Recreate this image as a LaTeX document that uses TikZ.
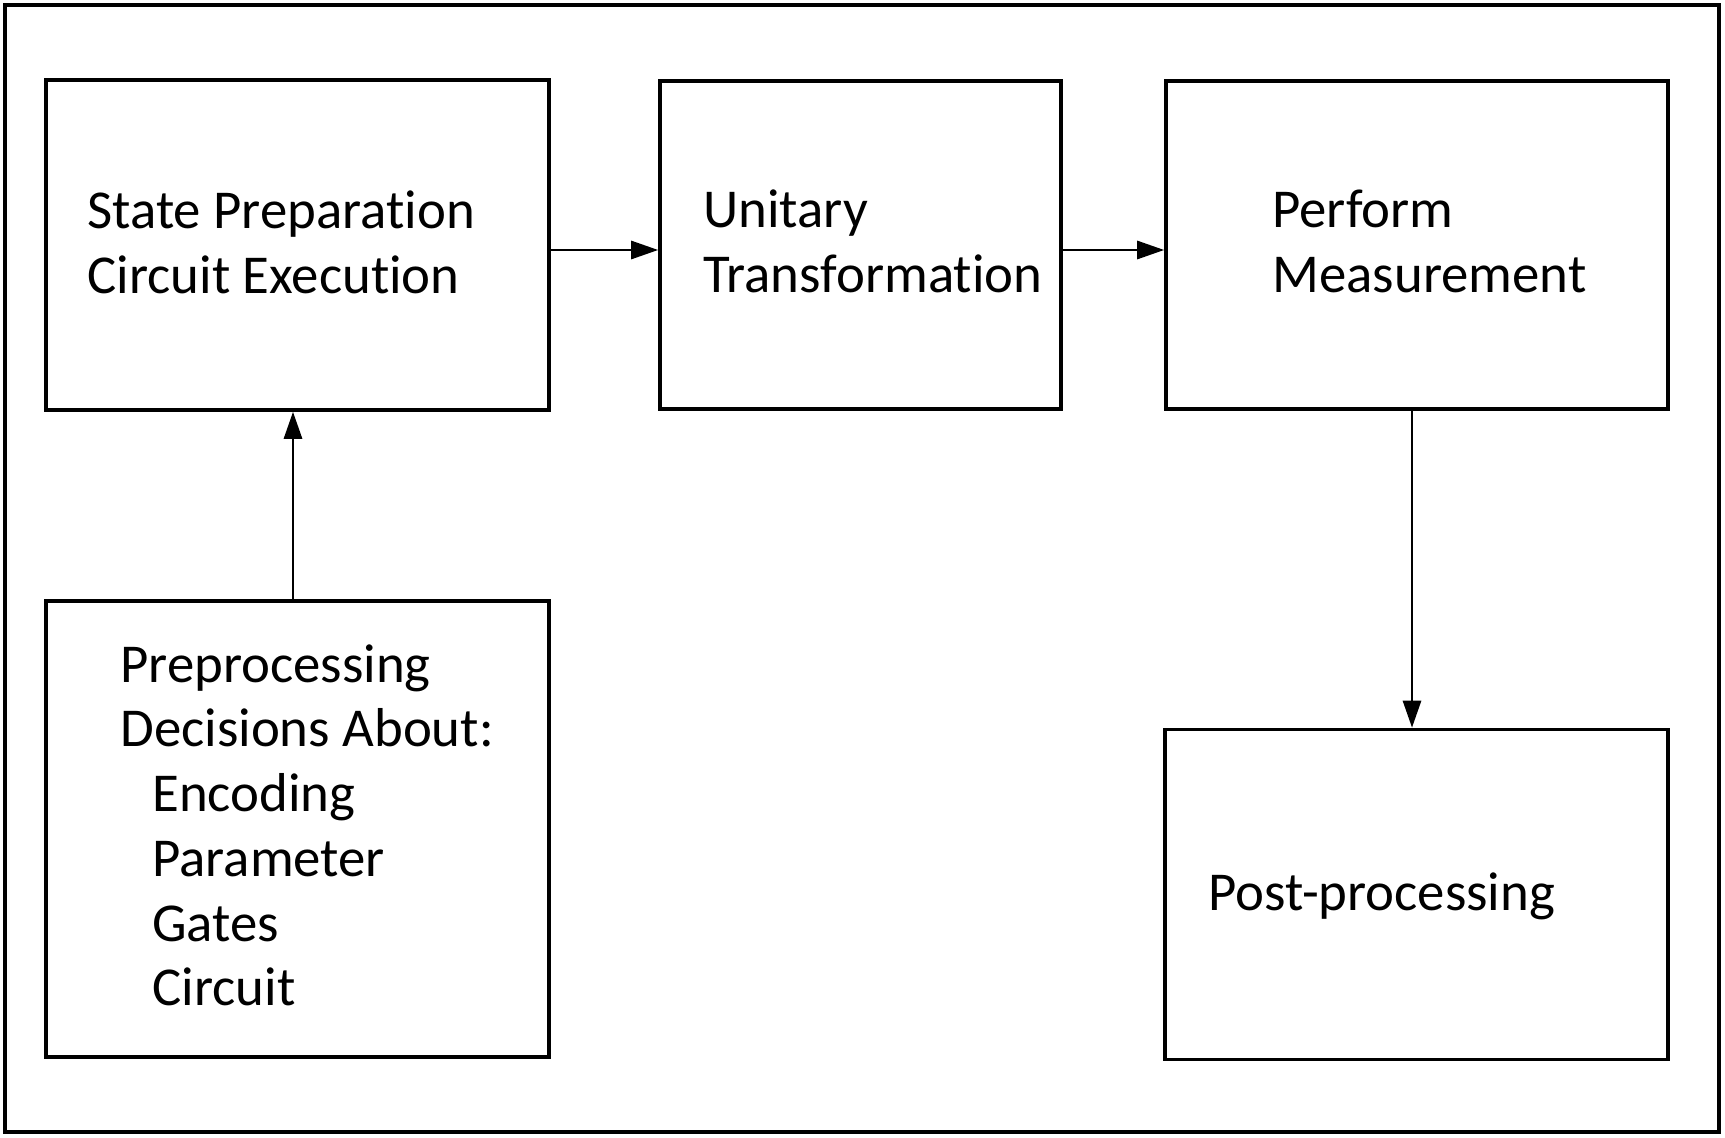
\documentclass[tikz,border=0pt]{standalone}
\usepackage{fontspec}
\setmainfont{Carlito}[Ligatures=NoCommon]
\usetikzlibrary{arrows.meta}
\begin{document}
\begin{tikzpicture}[x=0.5pt,y=-0.5pt,
  frame/.style={draw, line width=1.6pt, inner sep=0pt, minimum width=857pt, minimum height=563.5pt},
  box/.style={draw, line width=1.8pt, inner sep=0pt},
  lbl/.style={anchor=base west, inner sep=0pt, font=\fontsize{27.4pt}{32.5pt}\selectfont},
  conn/.style={line width=1.4pt, -{Triangle[length=13.5pt,width=9pt]}}]
\useasboundingbox (0,0) rectangle (1725,1138);
\node[frame] (fr) at (862,568.5) {};
% boxes
\node[box, minimum width=251.5pt, minimum height=165pt] (b1) at (297.5,245) {};
\node[box, minimum width=200.5pt, minimum height=164pt] (b2) at (860.5,245) {};
\node[box, minimum width=251pt, minimum height=164pt] (b3) at (1417,245) {};
\node[box, minimum width=251.5pt, minimum height=228pt] (b4) at (297.5,829) {};
\node[box, minimum width=251.5pt, minimum height=165pt] (b5) at (1416.5,894.5) {};
% labels
\node[lbl] (t1a) at (87,229) {State Preparation};
\node[lbl] (t1b) at (87,294) {Circuit Execution};
\node[lbl] (t2a) at (703,228) {Unitary};
\node[lbl] (t2b) at (703,293) {Transformation};
\node[lbl] (t3a) at (1272,228) {Perform};
\node[lbl] (t3b) at (1272,293) {Measurement};
\node[lbl] (t5) at (1208,910) {Post-processing};
\node[lbl] (t4a) at (120,683) {Preprocessing};
\node[lbl] (t4b) at (120,747) {Decisions About:};
\node[lbl] (t4c) at (152,812) {Encoding};
\node[lbl] (t4d) at (152,876) {Parameter};
\node[lbl] (t4e) at (152,941) {Gates};
\node[lbl] (t4f) at (152,1005) {Circuit};
% connectors
\draw[conn] ([yshift=-2.5pt]b1.east) -- ([yshift=-2.5pt]b2.west);
\draw[conn] ([yshift=-2.5pt]b2.east) -- ([yshift=-2.5pt]b3.west);
\draw[conn] ([xshift=-2.25pt]b4.north) -- ([xshift=-2.25pt]b1.south);
\draw[conn] ([xshift=-2.5pt]b3.south) -- ([xshift=-2.5pt]b3.south |- b5.north);
\end{tikzpicture}
\end{document}
